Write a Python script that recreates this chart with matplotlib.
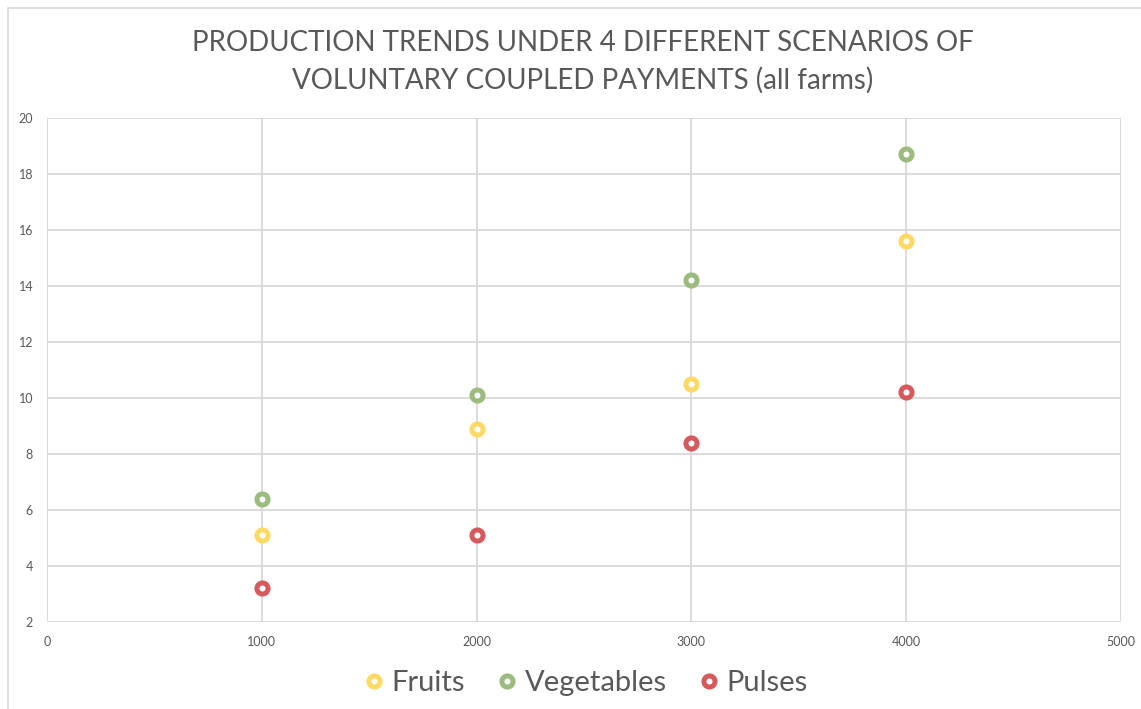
import matplotlib.pyplot as plt
from matplotlib.patches import Rectangle

payments = [1000, 2000, 3000, 4000]
fruits = [5.1, 8.9, 10.5, 15.6]
vegetables = [6.4, 10.1, 14.2, 18.7]
pulses = [3.2, 5.1, 8.4, 10.2]

series = [("Fruits", fruits, "#FFD966"),
          ("Vegetables", vegetables, "#9BBB7F"),
          ("Pulses", pulses, "#D65A5C")]

plt.rcParams["font.family"] = ["Lato", "DejaVu Sans"]
grey = "#595959"

fig = plt.figure(figsize=(11.41, 7.09), dpi=100)
ax = fig.add_axes([47 / 1141, 1 - 622 / 709, (1121 - 47) / 1141, (622 - 118) / 709])

for name, vals, col in series:
    ax.plot(payments, vals, linestyle="none", marker="o", markersize=8,
            markerfacecolor="white", markeredgecolor=col, markeredgewidth=3.6,
            label=name, zorder=3)

ax.set_xlim(0, 5000)
ax.set_ylim(2, 20)
ax.set_xticks(range(0, 5001, 1000))
ax.set_yticks(range(2, 21, 2))
ax.grid(True, color="#D9D9D9", linewidth=1.3)
for s in ax.spines.values():
    s.set_visible(False)
ax.tick_params(length=0, labelsize=9, labelcolor=grey, pad=10)

# title
fig.text(0.511, 1 - 62 / 709,
         "PRODUCTION TRENDS UNDER 4 DIFFERENT SCENARIOS OF\nVOLUNTARY COUPLED PAYMENTS (all farms)",
         ha="center", va="center", fontsize=20, color=grey, linespacing=1.5)

leg = fig.legend(loc="center", bbox_to_anchor=(0.511, 1 - 683 / 709), ncol=3,
                 frameon=False, fontsize=21, labelcolor=grey, handletextpad=0.05,
                 columnspacing=0.9, handlelength=1.1)

# chart border
fig.patches.append(Rectangle((8 / 1141, -0.1), 1.2, 1 - 8 / 709 + 0.1,
                             transform=fig.transFigure, fill=False,
                             edgecolor="#D9D9D9", linewidth=1.2))

fig.savefig("out.png", dpi=100)
